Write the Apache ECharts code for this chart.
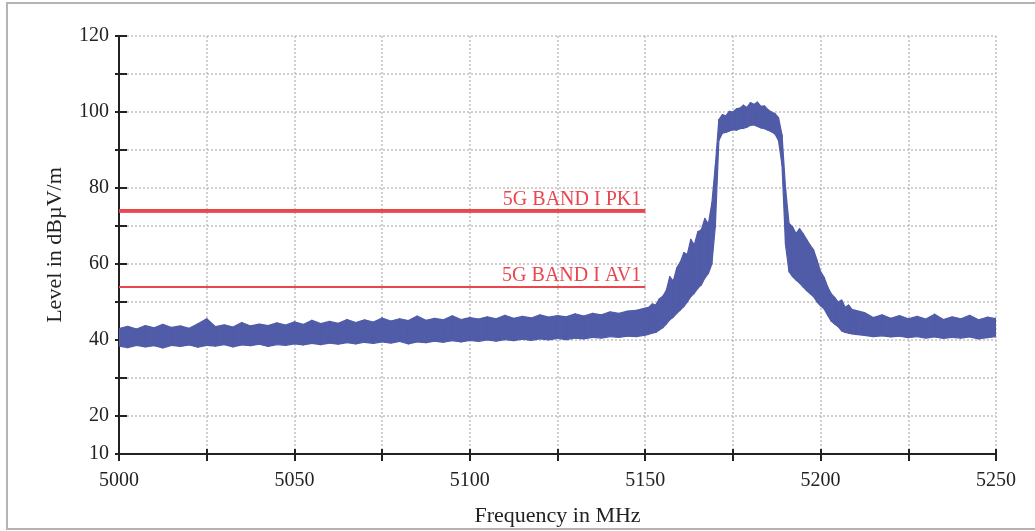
<!DOCTYPE html>
<html>
<head>
<meta charset="utf-8">
<script src="https://cdn.jsdelivr.net/npm/echarts@6/dist/echarts.min.js"></script>
<style>
  html, body { margin: 0; padding: 0; background: #fff; overflow: hidden; }
  #frame { position: absolute; left: 6px; top: 2px; width: 1040px; height: 528px; border: 2px solid #b4b4b4; box-sizing: border-box; }
  #chart { position: absolute; left: 0; top: 0; width: 1035px; height: 531px; }
</style>
</head>
<body>
<div id="frame"></div>
<div id="chart"></div>
<script>
// spectrum envelope (MHz / dBµV/m)
const freqs = [
  5000, 5002.5, 5005, 5007.5, 5010, 5012.5, 5015, 5017.5, 5020, 5022.5,
  5025, 5027.5, 5030, 5032.5, 5035, 5037.5, 5040, 5042.5, 5045, 5047.5,
  5050, 5052.5, 5055, 5057.5, 5060, 5062.5, 5065, 5067.5, 5070, 5072.5,
  5075, 5077.5, 5080, 5082.5, 5085, 5087.5, 5090, 5092.5, 5095, 5097.5,
  5100, 5102.5, 5105, 5107.5, 5110, 5112.5, 5115, 5117.5, 5120, 5122.5,
  5125, 5127.5, 5130, 5132.5, 5135, 5137.5, 5140, 5142.5, 5145, 5147.5,
  5150,
  5151, 5152, 5153, 5154, 5155, 5156, 5157, 5158, 5159, 5160,
  5161, 5162, 5163, 5164, 5165, 5166, 5167, 5168, 5169, 5170,
  5171, 5172, 5173, 5174, 5175, 5176, 5177, 5178, 5179, 5180,
  5181, 5182, 5183, 5184, 5185, 5186, 5187, 5188, 5189, 5190,
  5191, 5192, 5193, 5194, 5195, 5196, 5197, 5198, 5199, 5200,
  5201, 5202, 5203, 5204, 5205, 5206, 5207, 5208, 5209, 5210,
  5212.5, 5215, 5217.5, 5220, 5222.5, 5225, 5227.5, 5230, 5232.5, 5235,
  5237.5, 5240, 5242.5, 5245, 5247.5, 5250
]
const lowLevel = [
  38.4, 38.0, 38.6, 38.2, 38.5, 37.9, 38.6, 38.3, 38.7, 38.1,
  38.6, 38.4, 38.8, 38.2, 38.7, 38.5, 38.9, 38.3, 38.8, 38.6,
  39.0, 38.7, 39.1, 38.8, 39.2, 38.9, 39.3, 39.0, 39.4, 39.1,
  39.5, 39.2, 39.6, 39.0, 39.5, 39.3, 39.7, 39.4, 39.8, 39.5,
  39.9, 39.6, 40.0, 39.7, 40.1, 39.8, 40.2, 39.9, 40.3, 40.0,
  40.4, 40.1, 40.5, 40.3, 40.7, 40.5, 40.9, 40.7, 41.0, 40.9,
  41.3,
  41.5, 41.8, 42.0, 42.6, 43.2, 44.2, 45.3, 46.0, 47.0, 47.9,
  48.8, 50.0, 51.4, 52.3, 53.6, 54.5, 56.3, 57.5, 60.0, 70.0,
  92.5, 94.4, 94.6, 95.0, 95.3, 95.2, 95.6, 95.7, 96.0, 96.5,
  96.6, 96.2, 95.8, 95.6, 95.2, 94.8, 94.2, 92.5, 86.0, 65.0,
  58.0, 56.7, 55.8, 55.0, 54.0, 53.0, 52.2, 51.4, 50.0, 49.0,
  48.2, 46.5, 45.0, 44.2, 43.5, 42.4, 42.0, 41.8, 41.6, 41.5,
  41.2, 40.9, 41.1, 40.8, 41.0, 40.6, 40.9, 40.5, 40.8, 40.4,
  40.7, 40.5, 40.8, 40.3, 40.6, 40.9
]
const highLevel = [
  43.0, 43.6, 42.9, 43.8, 43.2, 44.1, 43.3, 43.7, 43.1, 44.3,
  45.6, 43.5, 44.0, 43.4, 44.6, 43.7, 44.2, 43.8, 44.5, 43.9,
  44.8, 44.1, 45.2, 44.3, 44.9, 44.4, 45.4, 44.6, 45.3, 44.7,
  45.8, 45.0, 45.6, 45.1, 46.3, 45.2, 45.7, 45.3, 46.4, 45.4,
  45.9, 45.5, 46.1, 45.6, 46.5, 45.7, 46.2, 45.8, 46.6, 46.0,
  46.4, 46.1, 46.9, 46.3, 47.0, 46.6, 47.4, 47.0, 47.6, 47.8,
  48.4,
  48.6, 49.5, 49.2, 50.8, 51.5, 53.0, 56.7, 55.5, 59.0, 60.5,
  63.0, 62.5, 66.5, 65.0, 68.5, 69.0, 72.0, 70.5, 76.0, 86.0,
  98.0, 99.3, 99.0, 100.2, 100.0, 100.8, 101.0, 101.8, 101.2, 102.5,
  102.0, 102.6, 101.5, 101.6, 100.6, 100.0, 99.6, 98.5, 94.0, 80.0,
  70.7, 69.8, 68.0, 69.3, 68.0, 66.5, 65.0, 63.7, 61.0, 58.0,
  56.5, 54.0, 52.2, 51.2, 50.0, 50.5, 48.6, 49.2, 48.0, 47.8,
  47.2, 45.9, 46.6, 45.7, 46.4, 45.6, 46.2, 45.5, 46.8, 45.4,
  46.1, 45.6, 46.5, 45.3, 46.0, 45.6
]

// limit lines
const limitFreqs = [5000, 5150]
const pkLimit = [74, 74]
const avLimit = [54, 54]
const pkName = '5G BAND I PK1'
const avName = '5G BAND I AV1'

const yLabels = [10, 20, 40, 60, 80, 100, 120]
const xLabels = [5000, 5050, 5100, 5150, 5200, 5250]

const FONT = 'Liberation Serif'
const TRACE = '#505ca8'
const LIMIT = '#e8474f'

// each item: one slice of the envelope, from this point to the next one
const bandData = freqs.slice(0, -1).map((f, i) => [
  f, lowLevel[i], highLevel[i], freqs[i + 1], lowLevel[i + 1], highLevel[i + 1]
])

function renderBand(params, api) {
  const a = api.coord([api.value(0), api.value(1)])
  const b = api.coord([api.value(3), api.value(4)])
  const c = api.coord([api.value(3), api.value(5)])
  const d = api.coord([api.value(0), api.value(2)])
  return {
    type: 'polygon',
    shape: { points: [a, b, c, d] },
    style: { fill: TRACE, stroke: TRACE, lineWidth: 1.2, lineJoin: 'round' },
  }
}

function limitSeries(name, values, width) {
  const pts = limitFreqs.map((f, i) => [f, values[i]])
  return {
    name,
    type: 'line',
    data: pts,
    symbol: 'none',
    silent: true,
    lineStyle: { color: LIMIT, width },
    z: 5,
    markLine: {
      symbol: 'none',
      silent: true,
      data: [[{ coord: pts[0] }, { coord: pts[1] }]],
      lineStyle: { color: LIMIT, width, type: 'solid' },
      label: {
        show: true,
        position: 'insideEndTop',
        distance: [4, 1],
        formatter: name,
        color: LIMIT,
        fontFamily: FONT,
        fontSize: 20,
      },
    },
  }
}

const chart = echarts.init(document.getElementById('chart'), null, { renderer: 'canvas' })
chart.setOption({
  animation: false,
  backgroundColor: 'transparent',
  grid: { left: 119, right: 39, top: 36, bottom: 77, containLabel: false, outerBoundsMode: 'none' },
  xAxis: [{
    type: 'value',
    min: 5000,
    max: 5250,
    interval: 25,
    name: 'Frequency in MHz',
    nameLocation: 'middle',
    nameGap: 51,
    nameTextStyle: { color: '#222', fontFamily: FONT, fontSize: 22 },
    axisLine: { show: true, onZero: false, lineStyle: { color: '#222', width: 2 } },
    axisTick: { show: true, length: 7, lineStyle: { color: '#222', width: 2 } },
    axisLabel: {
      color: '#222', fontFamily: FONT, fontSize: 20, margin: 17,
      showMinLabel: true, showMaxLabel: true,
      formatter: (v) => (xLabels.includes(v) ? String(v) : ''),
    },
    splitLine: { show: true, lineStyle: { color: '#c0c0c0', width: 1.5, type: [2, 2] } },
  }, {
    type: 'value',
    min: 5000,
    max: 5250,
    interval: 25,
    position: 'bottom',
    axisLine: { show: false },
    axisTick: { show: true, inside: true, length: 5, lineStyle: { color: '#222', width: 2 } },
    axisLabel: { show: false },
    splitLine: { show: false },
  }],
  yAxis: [{
    type: 'value',
    min: 10,
    max: 120,
    interval: 10,
    name: 'Level in dBµV/m',
    nameLocation: 'middle',
    nameGap: 53,
    nameRotate: 90,
    nameTextStyle: { color: '#222', fontFamily: FONT, fontSize: 22 },
    axisLine: { show: true, onZero: false, lineStyle: { color: '#222', width: 2 } },
    axisTick: { show: true, length: 4, lineStyle: { color: '#222', width: 2 } },
    axisLabel: {
      color: '#222', fontFamily: FONT, fontSize: 20, margin: 10,
      showMinLabel: true, showMaxLabel: true,
      formatter: (v) => (yLabels.includes(v) ? String(v) : ''),
    },
    splitLine: { show: true, lineStyle: { color: '#c0c0c0', width: 1.5, type: [2, 2] } },
  }, {
    type: 'value',
    min: 10,
    max: 120,
    interval: 10,
    position: 'left',
    axisLine: { show: false },
    axisTick: { show: true, inside: true, length: 8, lineStyle: { color: '#222', width: 2 } },
    axisLabel: { show: false },
    splitLine: { show: false },
  }],
  series: [
    {
      name: 'trace',
      type: 'custom',
      data: bandData,
      renderItem: renderBand,
      silent: true,
      clip: true,
      encode: { x: [0, 3], y: [1, 2, 4, 5] },
      z: 3,
    },
    limitSeries(pkName, pkLimit, 3.5),
    limitSeries(avName, avLimit, 1.8),
  ],
})
</script>
</body>
</html>
